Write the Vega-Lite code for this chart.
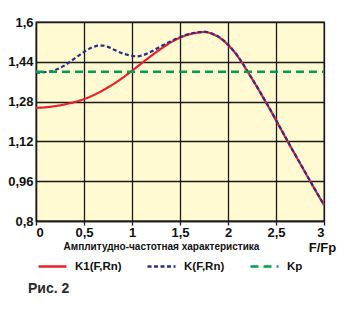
{
  "$schema": "https://vega.github.io/schema/vega-lite/v6.json",
  "width": 288,
  "height": 199,
  "autosize": {"type": "none"},
  "padding": {"left": 36, "top": 22, "right": 20, "bottom": 99},
  "background": "white",
  "title": {"text": "Рис. 2", "orient": "bottom", "anchor": "start", "frame": "group", "fontSize": 14, "fontWeight": 600, "font": "Liberation Sans", "color": "#2a2a2a", "dx": -8, "offset": 10},
  "config": {
    "view": {"fill": "#FFFAD2", "stroke": "#1a1a1a", "strokeWidth": 1.3},
    "font": "Liberation Sans",
    "legend": {
      "orient": "none", "legendX": 1, "legendY": 229, "direction": "horizontal",
      "symbolType": "stroke", "symbolSize": 784, "symbolStrokeWidth": 2.5,
      "labelFont": "Liberation Sans", "labelFontSize": 11.5, "labelFontWeight": "bold", "labelColor": "#111111",
      "labelOffset": 7, "columnPadding": 20, "title": null
    }
  },
  "data": {"values": [
    {"s": "K1(F,Rn)", "x": 0, "y": 1.255}, {"s": "K1(F,Rn)", "x": 0.1, "y": 1.257}, {"s": "K1(F,Rn)", "x": 0.2, "y": 1.262}, {"s": "K1(F,Rn)", "x": 0.3, "y": 1.269}, {"s": "K1(F,Rn)", "x": 0.4, "y": 1.278}, {"s": "K1(F,Rn)", "x": 0.5, "y": 1.29}, {"s": "K1(F,Rn)", "x": 0.6, "y": 1.306}, {"s": "K1(F,Rn)", "x": 0.7, "y": 1.326}, {"s": "K1(F,Rn)", "x": 0.8, "y": 1.349}, {"s": "K1(F,Rn)", "x": 0.9, "y": 1.375}, {"s": "K1(F,Rn)", "x": 1.0, "y": 1.404}, {"s": "K1(F,Rn)", "x": 1.1, "y": 1.434}, {"s": "K1(F,Rn)", "x": 1.2, "y": 1.464}, {"s": "K1(F,Rn)", "x": 1.3, "y": 1.492}, {"s": "K1(F,Rn)", "x": 1.4, "y": 1.517}, {"s": "K1(F,Rn)", "x": 1.5, "y": 1.537}, {"s": "K1(F,Rn)", "x": 1.6, "y": 1.551}, {"s": "K1(F,Rn)", "x": 1.7, "y": 1.558}, {"s": "K1(F,Rn)", "x": 1.75, "y": 1.56}, {"s": "K1(F,Rn)", "x": 1.8, "y": 1.557}, {"s": "K1(F,Rn)", "x": 1.85, "y": 1.55}, {"s": "K1(F,Rn)", "x": 1.9, "y": 1.54}, {"s": "K1(F,Rn)", "x": 1.95, "y": 1.526}, {"s": "K1(F,Rn)", "x": 2.0, "y": 1.508}, {"s": "K1(F,Rn)", "x": 2.05, "y": 1.487}, {"s": "K1(F,Rn)", "x": 2.1, "y": 1.463}, {"s": "K1(F,Rn)", "x": 2.15, "y": 1.434}, {"s": "K1(F,Rn)", "x": 2.2, "y": 1.403}, {"s": "K1(F,Rn)", "x": 2.25, "y": 1.372}, {"s": "K1(F,Rn)", "x": 2.3, "y": 1.34}, {"s": "K1(F,Rn)", "x": 2.35, "y": 1.307}, {"s": "K1(F,Rn)", "x": 2.4, "y": 1.274}, {"s": "K1(F,Rn)", "x": 2.45, "y": 1.24}, {"s": "K1(F,Rn)", "x": 2.5, "y": 1.205}, {"s": "K1(F,Rn)", "x": 2.55, "y": 1.17}, {"s": "K1(F,Rn)", "x": 2.6, "y": 1.135}, {"s": "K1(F,Rn)", "x": 2.65, "y": 1.1}, {"s": "K1(F,Rn)", "x": 2.7, "y": 1.066}, {"s": "K1(F,Rn)", "x": 2.75, "y": 1.032}, {"s": "K1(F,Rn)", "x": 2.8, "y": 0.998}, {"s": "K1(F,Rn)", "x": 2.85, "y": 0.964}, {"s": "K1(F,Rn)", "x": 2.9, "y": 0.93}, {"s": "K1(F,Rn)", "x": 2.95, "y": 0.897}, {"s": "K1(F,Rn)", "x": 3.0, "y": 0.864},
    {"s": "K(F,Rn)", "x": 0, "y": 1.396}, {"s": "K(F,Rn)", "x": 0.1, "y": 1.399}, {"s": "K(F,Rn)", "x": 0.2, "y": 1.407}, {"s": "K(F,Rn)", "x": 0.3, "y": 1.426}, {"s": "K(F,Rn)", "x": 0.4, "y": 1.453}, {"s": "K(F,Rn)", "x": 0.5, "y": 1.48}, {"s": "K(F,Rn)", "x": 0.6, "y": 1.5}, {"s": "K(F,Rn)", "x": 0.65, "y": 1.505}, {"s": "K(F,Rn)", "x": 0.7, "y": 1.505}, {"s": "K(F,Rn)", "x": 0.75, "y": 1.5}, {"s": "K(F,Rn)", "x": 0.8, "y": 1.491}, {"s": "K(F,Rn)", "x": 0.9, "y": 1.474}, {"s": "K(F,Rn)", "x": 1.0, "y": 1.464}, {"s": "K(F,Rn)", "x": 1.05, "y": 1.462}, {"s": "K(F,Rn)", "x": 1.1, "y": 1.465}, {"s": "K(F,Rn)", "x": 1.2, "y": 1.481}, {"s": "K(F,Rn)", "x": 1.3, "y": 1.502}, {"s": "K(F,Rn)", "x": 1.4, "y": 1.522}, {"s": "K(F,Rn)", "x": 1.5, "y": 1.539}, {"s": "K(F,Rn)", "x": 1.6, "y": 1.552}, {"s": "K(F,Rn)", "x": 1.7, "y": 1.559}, {"s": "K(F,Rn)", "x": 1.75, "y": 1.561}, {"s": "K(F,Rn)", "x": 1.8, "y": 1.558}, {"s": "K(F,Rn)", "x": 1.85, "y": 1.551}, {"s": "K(F,Rn)", "x": 1.9, "y": 1.541}, {"s": "K(F,Rn)", "x": 1.95, "y": 1.527}, {"s": "K(F,Rn)", "x": 2.0, "y": 1.509}, {"s": "K(F,Rn)", "x": 2.05, "y": 1.488}, {"s": "K(F,Rn)", "x": 2.1, "y": 1.464}, {"s": "K(F,Rn)", "x": 2.15, "y": 1.435}, {"s": "K(F,Rn)", "x": 2.2, "y": 1.404}, {"s": "K(F,Rn)", "x": 2.25, "y": 1.373}, {"s": "K(F,Rn)", "x": 2.3, "y": 1.341}, {"s": "K(F,Rn)", "x": 2.35, "y": 1.308}, {"s": "K(F,Rn)", "x": 2.4, "y": 1.275}, {"s": "K(F,Rn)", "x": 2.45, "y": 1.241}, {"s": "K(F,Rn)", "x": 2.5, "y": 1.206}, {"s": "K(F,Rn)", "x": 2.55, "y": 1.171}, {"s": "K(F,Rn)", "x": 2.6, "y": 1.136}, {"s": "K(F,Rn)", "x": 2.65, "y": 1.101}, {"s": "K(F,Rn)", "x": 2.7, "y": 1.067}, {"s": "K(F,Rn)", "x": 2.75, "y": 1.033}, {"s": "K(F,Rn)", "x": 2.8, "y": 0.999}, {"s": "K(F,Rn)", "x": 2.85, "y": 0.965}, {"s": "K(F,Rn)", "x": 2.9, "y": 0.931}, {"s": "K(F,Rn)", "x": 2.95, "y": 0.898}, {"s": "K(F,Rn)", "x": 3.0, "y": 0.865},
    {"s": "Kp", "x": 0, "y": 1.4}, {"s": "Kp", "x": 3, "y": 1.4}
  ]},
  "encoding": {
    "x": {"field": "x", "type": "quantitative",
      "scale": {"domain": [0, 3], "nice": false, "zero": false},
      "axis": {"values": [0, 0.5, 1, 1.5, 2, 2.5, 3], "labelExpr": "replace(format(datum.value, '~g'), '.', ',')",
        "grid": true, "gridColor": "#1a1a1a", "gridWidth": 1.3, "gridOpacity": 1,
        "domainColor": "#1a1a1a", "domainWidth": 1.3, "ticks": true, "tickSize": 4, "tickColor": "#1a1a1a", "tickWidth": 1.3,
        "labelPadding": 1, "labelFontSize": 13, "labelFontWeight": "bold", "labelColor": "#111111", "labelFont": "Liberation Sans",
        "title": "Амплитудно-частотная характеристика", "titleFont": "Liberation Sans", "titleFontSize": 10, "titleFontWeight": "bold", "titleColor": "#111111",
        "titleX": 125, "titleY": 25, "titleAlign": "center", "titleBaseline": "middle", "titleAnchor": null}},
    "y": {"field": "y", "type": "quantitative",
      "scale": {"domain": [0.8, 1.6], "nice": false, "zero": false},
      "axis": {"values": [0.8, 0.96, 1.12, 1.28, 1.44, 1.6], "labelExpr": "replace(format(datum.value, '~g'), '.', ',')",
        "grid": true, "gridColor": "#1a1a1a", "gridWidth": 1.3, "gridOpacity": 1,
        "domainColor": "#1a1a1a", "domainWidth": 1.3, "ticks": false, "labelPadding": 3,
        "labelFontSize": 13, "labelFontWeight": "bold", "labelColor": "#111111", "labelFont": "Liberation Sans",
        "title": "F/Fp", "titleAngle": 0, "titleX": 286, "titleY": 225, "titleAlign": "center", "titleBaseline": "middle",
        "titleFontSize": 13, "titleFontWeight": "bold", "titleColor": "#111111", "titleFont": "Liberation Sans"}},
    "color": {"field": "s", "type": "nominal",
      "scale": {"domain": ["K1(F,Rn)", "K(F,Rn)", "Kp"], "range": ["#E8202A", "#2B2E8C", "#00A050"]}},
    "strokeDash": {"field": "s", "type": "nominal",
      "scale": {"domain": ["K1(F,Rn)", "K(F,Rn)", "Kp"], "range": [[1, 0], [4, 2.5], [8, 5]]}}
  },
  "layer": [
    {"transform": [{"filter": "datum.s === 'K1(F,Rn)'"}], "mark": {"type": "line", "strokeWidth": 2.2, "interpolate": "monotone"}},
    {"transform": [{"filter": "datum.s === 'K(F,Rn)'"}], "mark": {"type": "line", "strokeWidth": 2.2, "interpolate": "monotone"}},
    {"transform": [{"filter": "datum.s === 'Kp'"}], "mark": {"type": "line", "strokeWidth": 2.5}}
  ]
}
